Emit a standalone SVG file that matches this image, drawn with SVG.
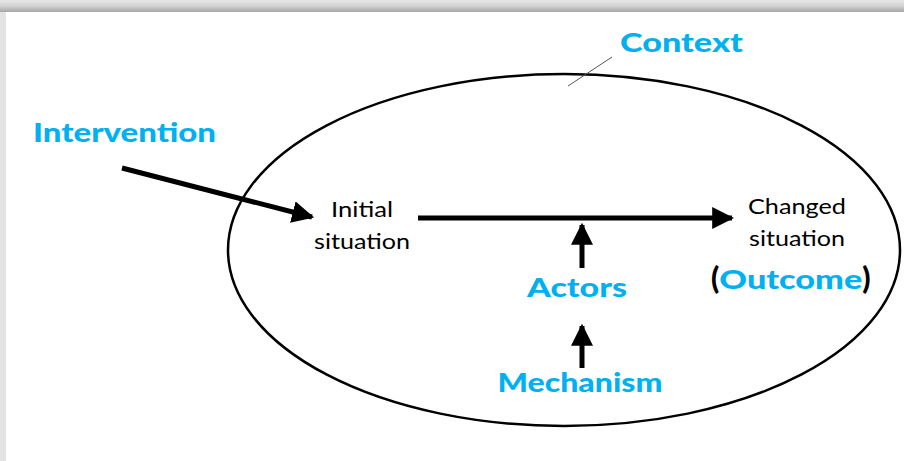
<svg xmlns="http://www.w3.org/2000/svg" width="904" height="461" viewBox="0 0 904 461">
  <defs>
    <linearGradient id="topShade" x1="0" y1="0" x2="0" y2="1">
      <stop offset="0" stop-color="#e8e8e8"/>
      <stop offset="0.5" stop-color="#d2d2d2"/>
      <stop offset="1" stop-color="#a6a6a6"/>
    </linearGradient>
    <linearGradient id="leftShade" x1="0" y1="0" x2="1" y2="0">
      <stop offset="0" stop-color="#e4e4e4"/>
      <stop offset="1" stop-color="#b4b4b4"/>
    </linearGradient>
    <marker id="head" viewBox="0 0 10 10" refX="9" refY="5" markerWidth="4.4" markerHeight="4.4" orient="auto" markerUnits="strokeWidth">
      <path d="M0,0 L10,5 L0,10 Z" fill="#000"/>
    </marker>
  </defs>
  <style>
    .blue { font-family: Lato, "Open Sans", "Liberation Sans", sans-serif; font-weight: 900; fill: #00b0f0; font-size: 26px; }
    .plain { font-family: Lato, "Open Sans", "Liberation Sans", sans-serif; fill: #000; font-size: 22px; }
    .paren { font-family: Lato, "Liberation Sans", sans-serif; font-weight: 900; fill: #000; font-size: 30px; }
    .arrow { stroke: #000; stroke-width: 5; fill: none; marker-end: url(#head); }
  </style>

  <!-- slide frame -->
  <rect x="0" y="0" width="904" height="461" fill="url(#leftShade)"/>
  <rect x="0" y="0" width="904" height="12" fill="url(#topShade)"/>
  <rect x="6" y="12" width="898" height="449" fill="#ffffff"/>

  <!-- context boundary -->
  <g id="context">
    <ellipse cx="564" cy="250" rx="336" ry="176" fill="none" stroke="#000" stroke-width="2.5"/>
    <line x1="612" y1="57" x2="568" y2="86" stroke="#555" stroke-width="1"/>
    <text class="blue" x="620" y="52" textLength="123" lengthAdjust="spacingAndGlyphs">Context</text>
  </g>

  <g id="connectors">
    <line class="arrow" x1="122" y1="168" x2="312" y2="217"/>
    <line class="arrow" x1="418" y1="218" x2="732" y2="218"/>
    <line class="arrow" x1="582" y1="268" x2="582" y2="225"/>
    <line class="arrow" x1="582" y1="368" x2="582" y2="326"/>
  </g>

  <g id="intervention">
    <text class="blue" x="33" y="142" textLength="183" lengthAdjust="spacingAndGlyphs">Intervention</text>
  </g>

  <g id="initial">
    <text class="plain" x="362" y="217" text-anchor="middle" textLength="62" lengthAdjust="spacingAndGlyphs">Initial</text>
    <text class="plain" x="362" y="249" text-anchor="middle" textLength="96" lengthAdjust="spacingAndGlyphs">situation</text>
  </g>

  <g id="changed">
    <text class="plain" x="797" y="214" text-anchor="middle" textLength="98" lengthAdjust="spacingAndGlyphs">Changed</text>
    <text class="plain" x="797" y="246" text-anchor="middle" textLength="96" lengthAdjust="spacingAndGlyphs">situation</text>
    <text x="711" y="289"><tspan class="paren">(</tspan><tspan class="blue" textLength="143" lengthAdjust="spacingAndGlyphs">Outcome</tspan><tspan class="paren">)</tspan></text>
  </g>

  <g id="actors">
    <text class="blue" x="577" y="297" text-anchor="middle" textLength="100" lengthAdjust="spacingAndGlyphs">Actors</text>
  </g>

  <g id="mechanism">
    <text class="blue" x="580" y="392" text-anchor="middle" textLength="165" lengthAdjust="spacingAndGlyphs">Mechanism</text>
  </g>
</svg>
